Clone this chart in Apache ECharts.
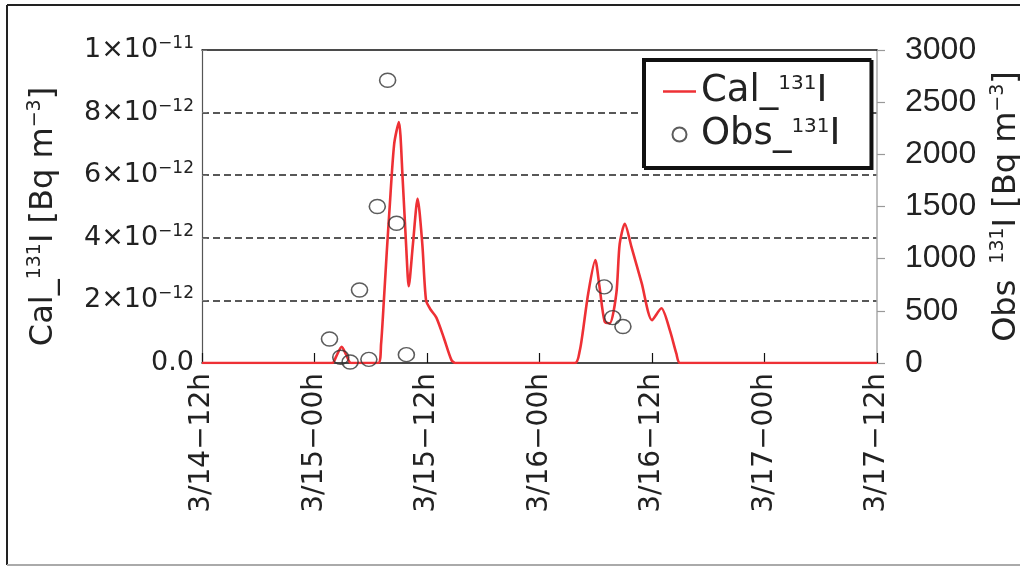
<!DOCTYPE html>
<html><head><meta charset="utf-8">
<script src="https://cdn.jsdelivr.net/npm/echarts@6/dist/echarts.min.js"></script>
<style>html,body{margin:0;padding:0;background:#fff}#c{width:1020px;height:568px}</style>
</head><body><div id="c"></div>
<script>
// x axis: hours after 3/14 12:00
const xTickLabels = ['3/14−12h', '3/15−00h', '3/15−12h', '3/16−00h', '3/16−12h', '3/17−00h', '3/17−12h'];
const calTickBase = ['0.0', '2×10', '4×10', '6×10', '8×10', '1×10'];
const calTickExp = ['', '−12', '−12', '−12', '−12', '−11'];
const obsTickLabels = ['0', '500', '1000', '1500', '2000', '2500', '3000'];

// Calculated 131I concentration [Bq m-3]
const calHours = [0, 13.9, 14.3, 14.9, 15.4, 15.9, 18.8, 19.1, 19.4, 19.7, 20.0, 20.5, 21.0, 21.4, 21.8, 22.05,
  22.5, 23.0, 23.5, 23.9, 24.4, 25.0, 25.8, 26.6, 27.0, 39.8, 40.3, 40.6, 41.2, 41.95, 42.4, 42.95, 43.5,
  44.2, 44.55, 45.1, 45.8, 46.9, 48.0, 49.0, 49.9, 50.6, 51.0, 72];
const calValues = [0, 0, 0.2e-12, 0.52e-12, 0.25e-12, 0, 0, 0.6e-12, 2.0e-12, 3.5e-12, 4.9e-12, 7.0e-12, 7.7e-12,
  5.9e-12, 3.6e-12, 2.45e-12, 3.8e-12, 5.25e-12, 3.8e-12, 2.0e-12, 1.7e-12, 1.45e-12, 0.8e-12, 0.1e-12, 0,
  0, 0.4e-12, 0.95e-12, 2.23e-12, 3.29e-12, 2.44e-12, 1.32e-12, 1.27e-12, 2.23e-12, 3.8e-12, 4.45e-12,
  3.72e-12, 2.55e-12, 1.37e-12, 1.75e-12, 1.05e-12, 0.3e-12, 0, 0];

// Observed 131I concentration [Bq m-3]
const obsHours = [13.6, 14.8, 15.8, 16.8, 17.8, 18.7, 19.8, 20.75, 21.8, 42.9, 43.8, 44.9];
const obsValues = [230, 55, 10, 700, 35, 1500, 2710, 1340, 80, 730, 435, 350];

const FONT_W = 'DejaVu Sans';
const FONT_N = 'Liberation Sans';
const INK = '#222';
const RED = '#ee3035';

const nameRich = {
  n: { fontFamily: FONT_W, fontSize: 32, color: INK, lineHeight: 36 },
  s: { fontFamily: FONT_W, fontSize: 19, color: INK, lineHeight: 36, verticalAlign: 'top' }
};

const chart = echarts.init(document.getElementById('c'), null, { renderer: 'canvas' });
chart.setOption({
  animation: false,
  backgroundColor: '#fff',
  grid: { left: 202, right: 143, top: 50, bottom: 205, containLabel: false, outerBoundsMode: 'none' },
  graphic: [
    { type: 'line', shape: { x1: 7, y1: 5, x2: 1020, y2: 5 }, style: { stroke: '#222', lineWidth: 2 } },
    { type: 'line', shape: { x1: 7, y1: 5, x2: 7, y2: 565 }, style: { stroke: '#222', lineWidth: 2 } },
    { type: 'line', shape: { x1: 7, y1: 565, x2: 1020, y2: 565 }, style: { stroke: '#aaa', lineWidth: 2 } }
  ],
  legend: {
    orient: 'vertical', left: 643, top: 59,
    padding: [14, 30, 14, 20], itemGap: 6, itemWidth: 33, itemHeight: 14,
    backgroundColor: '#fff', borderColor: '#111', borderWidth: 2,
    shadowColor: '#111', shadowOffsetX: 2, shadowOffsetY: 2, shadowBlur: 0,
    data: [
      { name: 'Cal_131I', icon: 'path://M0,0L33,0L33,2.6L0,2.6Z' },
      { name: 'Obs_131I' }
    ],
    formatter: function (n) {
      const p = n.split('131');
      return '{n|' + p[0] + '}{s|131}{n|' + p[1] + '}';
    },
    textStyle: {
      rich: {
        n: { fontFamily: FONT_W, fontSize: 37, lineHeight: 35, color: INK },
        s: { fontFamily: FONT_W, fontSize: 20, lineHeight: 35, color: INK, verticalAlign: 'top' }
      }
    }
  },
  xAxis: [
    {
      type: 'value', position: 'bottom', min: 0, max: 72, interval: 12,
      axisLine: { show: true, onZero: false, lineStyle: { color: '#111', width: 1.5 } },
      axisTick: { show: true, inside: true, length: 10, lineStyle: { color: '#111', width: 1.2 } },
      axisLabel: {
        rotate: 90, margin: 10, fontFamily: FONT_W, fontSize: 28, color: INK,
        formatter: function (v) { return xTickLabels[Math.round(v / 12)]; }
      },
      splitLine: { show: false }
    },
    {
      type: 'value', position: 'top', min: 0, max: 72,
      axisLine: { show: true, onZero: false, lineStyle: { color: '#111', width: 1.5 } },
      axisTick: { show: false }, axisLabel: { show: false }, splitLine: { show: false }
    }
  ],
  yAxis: [
    {
      type: 'value', position: 'left', min: 0, max: 1e-11, interval: 2e-12,
      axisLine: { show: true, onZero: false, lineStyle: { color: '#555', width: 1.2 } },
      axisTick: { show: true, inside: true, length: 5, lineStyle: { color: '#777' } },
      axisLabel: {
        margin: 8,
        formatter: function (v) {
          const i = Math.round(v / 2e-12);
          return calTickExp[i] ? '{b|' + calTickBase[i] + '}{e|' + calTickExp[i] + '}' : '{b|' + calTickBase[i] + '}';
        },
        rich: {
          b: { fontFamily: FONT_W, fontSize: 27, color: INK, lineHeight: 30 },
          e: { fontFamily: FONT_W, fontSize: 17, color: INK, lineHeight: 30, verticalAlign: 'top' }
        }
      },
      splitLine: { show: true, showMinLine: false, showMaxLine: false, lineStyle: { color: '#222', type: [7, 4], width: 1.5 } },
      name: '{n|Cal_}{s|131}{n|I [Bq m}{s|−3}{n|]}',
      nameLocation: 'middle', nameRotate: 90, nameGap: 140,
      nameTextStyle: { rich: nameRich, padding: [0, 20, 0, 0] }
    },
    {
      type: 'value', position: 'right', min: 0, max: 3000, interval: 500,
      axisLine: { show: true, onZero: false, lineStyle: { color: '#aaa', width: 1.5 } },
      axisTick: { show: true, inside: false, length: 8, lineStyle: { color: '#999', width: 1.2 } },
      axisLabel: {
        margin: 28, fontFamily: FONT_N, fontSize: 32, color: INK,
        formatter: function (v) { return obsTickLabels[Math.round(v / 500)]; }
      },
      splitLine: { show: false },
      name: '{n|Obs_}{s|131}{n|I [Bq m}{s|−3}{n|]}',
      nameLocation: 'middle', nameRotate: 90, nameGap: 112,
      nameTextStyle: { rich: nameRich }
    }
  ],
  series: [
    {
      name: 'Cal_131I', type: 'line', xAxisIndex: 0, yAxisIndex: 0,
      data: calHours.map(function (h, i) { return [h, calValues[i]]; }),
      smooth: 0.25, symbol: 'none', color: RED,
      lineStyle: { color: RED, width: 2.6 }, z: 3
    },
    {
      name: 'Obs_131I', type: 'scatter', xAxisIndex: 0, yAxisIndex: 1,
      data: obsHours.map(function (h, i) { return [h, obsValues[i]]; }),
      symbol: 'circle', symbolSize: [16, 14],
      itemStyle: { color: 'rgba(255,255,255,0)', borderColor: '#333', borderWidth: 1.5 }, z: 4
    }
  ]
});
</script>
</body></html>
